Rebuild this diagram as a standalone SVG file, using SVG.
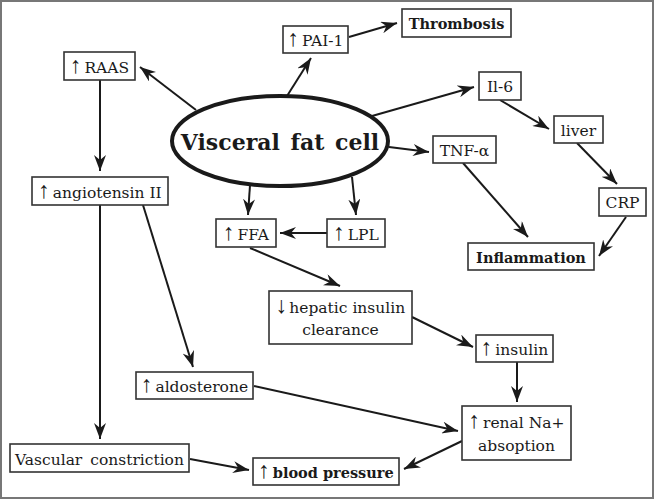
<svg xmlns="http://www.w3.org/2000/svg" width="655" height="500" viewBox="0 0 655 500">
<style>
.box{fill:#fff;stroke:#333;stroke-width:1.6}
.t{font-family:"DejaVu Serif","Liberation Serif",serif;font-size:15.5px;fill:#1a1a1a;text-anchor:middle}
.b{font-weight:bold;font-size:14.5px}
.a{font-family:"Liberation Serif","DejaVu Sans",serif;font-size:23px;font-weight:normal}
.c{fill:none;stroke:#1a1a1a;stroke-width:2}
</style>
<defs>
<marker id="ah" viewBox="0 0 16 12" refX="16" refY="6" markerWidth="16" markerHeight="12" markerUnits="userSpaceOnUse" orient="auto">
<path d="M0,0 L16,6 L0,12 L5,6 Z" fill="#1a1a1a"/>
</marker>
</defs>
<rect x="1" y="1" width="652" height="497" fill="#fff" stroke="#777" stroke-width="2"/>
<g id="connectors" class="c" marker-end="url(#ah)">
<line x1="196" y1="110" x2="140" y2="67"/>
<line x1="287" y1="96" x2="311" y2="58"/>
<line x1="349" y1="37" x2="397" y2="23"/>
<line x1="372" y1="116" x2="474" y2="87"/>
<line x1="500" y1="100" x2="549" y2="129"/>
<line x1="389" y1="147" x2="429" y2="152"/>
<line x1="463" y1="163" x2="528" y2="237"/>
<line x1="577" y1="143" x2="617" y2="184"/>
<line x1="626" y1="217" x2="599" y2="256"/>
<line x1="250" y1="185" x2="248" y2="215"/>
<line x1="352" y1="177" x2="356" y2="215"/>
<line x1="327" y1="233" x2="280" y2="233"/>
<line x1="250" y1="248" x2="340" y2="286"/>
<line x1="412" y1="317" x2="473" y2="347"/>
<line x1="517" y1="362" x2="517" y2="402"/>
<line x1="100" y1="80" x2="100" y2="171"/>
<line x1="100" y1="205" x2="100" y2="439"/>
<line x1="143" y1="205" x2="193" y2="367"/>
<line x1="254" y1="386" x2="458" y2="431"/>
<line x1="462" y1="441" x2="404" y2="469"/>
<line x1="190" y1="459" x2="249" y2="470"/>
</g>
<g id="visceral">
<ellipse cx="280" cy="141" rx="108" ry="45" fill="#fff" stroke="#1a1a1a" stroke-width="4"/>
<text x="280" y="150" class="t" style="font-weight:bold;font-size:22px;word-spacing:3px">Visceral fat cell</text>
</g>
<g id="raas"><rect x="64" y="52" width="71" height="28" class="box"/><text x="99.5" y="73" class="t"><tspan class="a">↑</tspan><tspan dx="3">RAAS</tspan></text></g>
<g id="pai1"><rect x="283" y="26" width="65" height="27" class="box"/><text x="315.5" y="46" class="t"><tspan class="a">↑</tspan><tspan dx="3">PAI-1</tspan></text></g>
<g id="thrombosis"><rect x="402" y="9" width="109" height="28" class="box"/><text x="456.5" y="29" class="t b">Thrombosis</text></g>
<g id="il6"><rect x="479" y="72" width="42" height="28" class="box"/><text x="500" y="92" class="t">Il-6</text></g>
<g id="liver"><rect x="554" y="116" width="49" height="27" class="box"/><text x="578.5" y="136" class="t">liver</text></g>
<g id="tnf"><rect x="433" y="136" width="63" height="27" class="box"/><text x="464.5" y="156" class="t">TNF-α</text></g>
<g id="crp"><rect x="599" y="188" width="47" height="28" class="box"/><text x="622.5" y="208" class="t">CRP</text></g>
<g id="inflammation"><rect x="468" y="243" width="126" height="27" class="box"/><text x="531" y="263" class="t b">Inflammation</text></g>
<g id="ffa"><rect x="216" y="219" width="60" height="28" class="box"/><text x="246" y="240" class="t"><tspan class="a">↑</tspan><tspan dx="3">FFA</tspan></text></g>
<g id="lpl"><rect x="327" y="219" width="58" height="28" class="box"/><text x="356" y="240" class="t"><tspan class="a">↑</tspan><tspan dx="3">LPL</tspan></text></g>
<g id="angiotensin"><rect x="32" y="177" width="136" height="28" class="box"/><text x="100" y="198" class="t"><tspan class="a">↑</tspan><tspan dx="3">angiotensin II</tspan></text></g>
<g id="hepatic"><rect x="269" y="291" width="143" height="53" class="box"/><text x="340.5" y="313" class="t"><tspan class="a">↓</tspan><tspan dx="2">hepatic insulin</tspan></text><text x="340.5" y="335" class="t">clearance</text></g>
<g id="insulin"><rect x="476" y="335" width="77" height="27" class="box"/><text x="514.5" y="355" class="t"><tspan class="a">↑</tspan><tspan dx="3">insulin</tspan></text></g>
<g id="aldosterone"><rect x="136" y="372" width="117" height="27" class="box"/><text x="194.5" y="392" class="t"><tspan class="a">↑</tspan><tspan dx="3">aldosterone</tspan></text></g>
<g id="renal"><rect x="462" y="406" width="109" height="54" class="box"/><text x="516.5" y="428" class="t"><tspan class="a">↑</tspan><tspan dx="3">renal Na+</tspan></text><text x="516.5" y="451" class="t">absoption</text></g>
<g id="vascular"><rect x="10" y="444" width="179" height="28" class="box"/><text x="99.5" y="465" class="t" style="word-spacing:3px">Vascular constriction</text></g>
<g id="bp"><rect x="253" y="458" width="146" height="27" class="box"/><text x="326" y="478" class="t"><tspan class="a">↑</tspan><tspan dx="3" style="font-weight:bold;font-size:14.5px">blood pressure</tspan></text></g>
</svg>
